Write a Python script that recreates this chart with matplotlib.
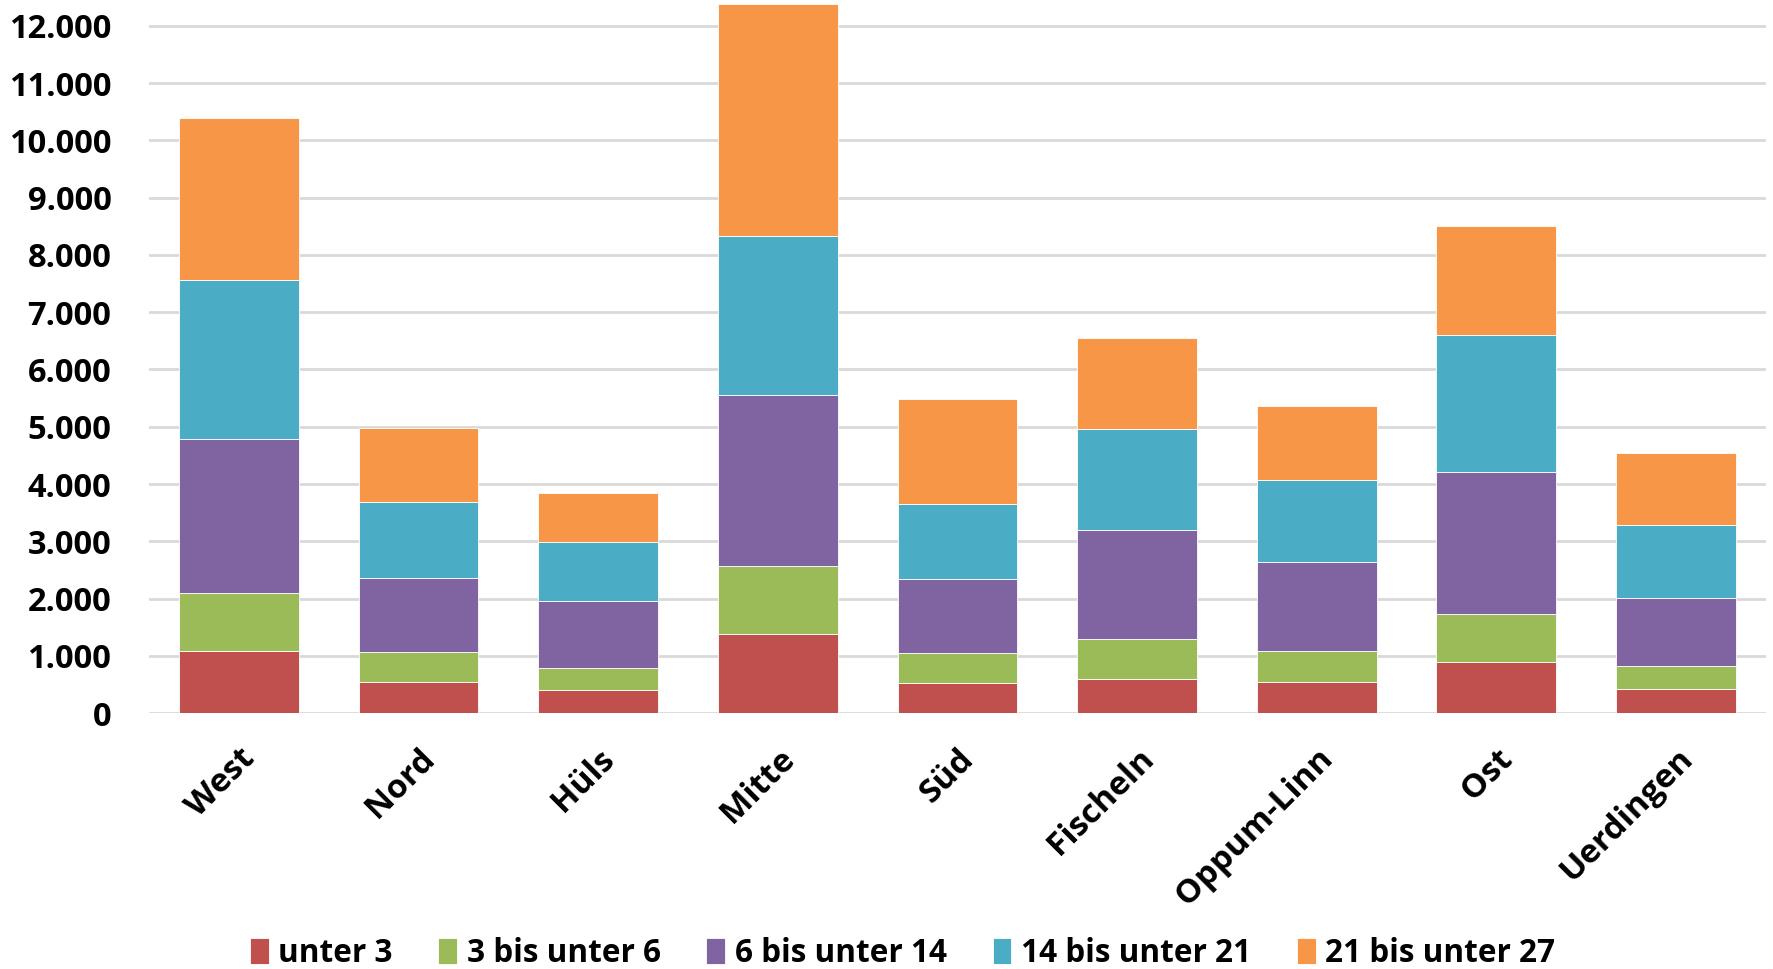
import numpy as np
import matplotlib.pyplot as plt

districts = ['West', 'Nord', 'Hüls', 'Mitte', 'Süd', 'Fischeln', 'Oppum-Linn', 'Ost', 'Uerdingen']
series = ['unter 3', '3 bis unter 6', '6 bis unter 14', '14 bis unter 21', '21 bis unter 27']
unter3 = [1090, 545, 400, 1380, 530, 600, 553, 898, 425]
bis6 = [1002, 521, 394, 1194, 520, 698, 529, 833, 401]
bis14 = [2702, 1299, 1162, 2974, 1299, 1907, 1563, 2485, 1178]
bis21 = [2773, 1322, 1034, 2774, 1306, 1748, 1427, 2389, 1283]
bis27 = [2830, 1291, 850, 4056, 1828, 1595, 1291, 1892, 1250]
colors = ['#C0504D', '#9BBB59', '#8064A2', '#4BACC6', '#F79646']

plt.rcParams['font.family'] = ['Open Sans', 'DejaVu Sans']
plt.rcParams['font.weight'] = 'bold'

fig = plt.figure(figsize=(17.73, 9.69), dpi=100)
ax = fig.add_axes([0.084, 0.264, 0.912, 0.736])

x = np.arange(len(districts))
bottom = np.zeros(len(districts))
for name, vals, c in zip(series, [unter3, bis6, bis14, bis21, bis27], colors):
    ax.bar(x, vals, 0.667, bottom=bottom, color=c, label=name,
           edgecolor='white', linewidth=0.6, zorder=3)
    bottom += np.array(vals)

ax.set_xlim(-0.5, len(districts) - 0.5)
ax.set_ylim(0, 12450)
ax.set_yticks(range(0, 12001, 1000))
ax.set_yticklabels([f'{v:,}'.replace(',', '.') for v in range(0, 12001, 1000)],
                   fontsize=23.5, fontweight='bold')
ax.yaxis.grid(True, color='#D9D9D9', linewidth=2, zorder=0)
ax.tick_params(axis='both', length=0)
ax.tick_params(axis='y', pad=27)
ax.set_xticks(x)
ax.set_xticklabels(districts, rotation=45, ha='right', rotation_mode='anchor',
                   fontsize=24, fontweight='bold')
ax.tick_params(axis='x', pad=21)
for s in ax.spines.values():
    s.set_visible(False)

fig.legend(loc='lower center', bbox_to_anchor=(0.509, -0.03), ncol=5, frameon=False,
           fontsize=22.7, handlelength=0.6, handleheight=0.9, handletextpad=0.3,
           columnspacing=1.45)

fig.savefig('out.png', dpi=100)
